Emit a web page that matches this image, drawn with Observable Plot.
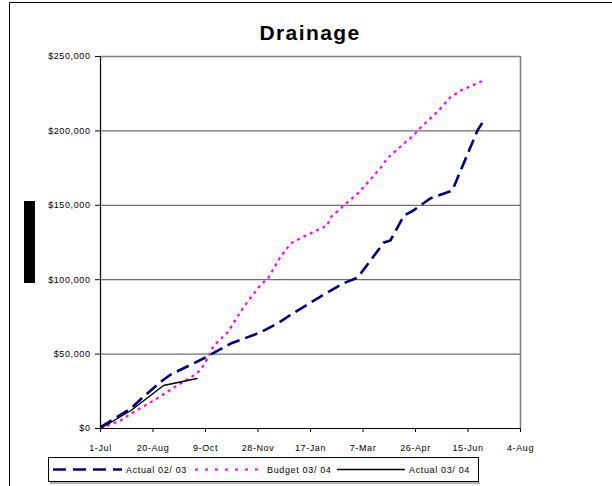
<!DOCTYPE html>
<html>
<head>
<meta charset="utf-8">
<script src="https://cdn.jsdelivr.net/npm/d3@7"></script>
<script src="https://cdn.jsdelivr.net/npm/@observablehq/plot@0.6"></script>
<style>
  body { margin: 0; background: #fff; }
  #wrap { position: relative; width: 612px; height: 486px; overflow: hidden; background: #fff; }
  #wrap svg text { font-family: "Liberation Sans", Arial, sans-serif; }
  #chart svg text { letter-spacing: 0.6px; }
  #deco { position: absolute; left: 0; top: 0; pointer-events: none; }
</style>
</head>
<body>
<div id="wrap"><div id="chart"></div></div>
<script>
// ---- data (x = days since 1-Jul) ----
const xTickDays = [0, 50, 100, 150, 200, 250, 300, 350, 400];
const xTickLabels = ["1-Jul", "20-Aug", "9-Oct", "28-Nov", "17-Jan", "7-Mar", "26-Apr", "15-Jun", "4-Aug"];
const yTicks = [0, 50000, 100000, 150000, 200000, 250000];

const actual0203Days   = [0, 29, 38, 59, 67, 100, 124, 152, 170, 183, 208, 231, 245, 270, 276, 289, 298, 314, 335, 359, 365];
const actual0203Values = [1000, 13400, 19500, 32300, 36300, 47700, 57100, 64500, 71200, 77300, 88000, 97400, 101500, 125000, 126300, 143100, 146500, 154600, 159900, 200300, 207000];

const budget0304Days   = [0, 19, 31, 54, 70, 86, 95, 102, 108, 121, 136, 152, 160, 171, 181, 192, 208, 216, 219, 235, 245, 252, 267, 273, 289, 298, 305, 314, 322, 333, 343, 365];
const budget0304Values = [0, 5400, 10800, 20200, 27600, 34300, 39000, 47000, 55800, 64500, 81300, 96100, 101500, 114900, 124300, 128400, 133700, 136400, 141800, 151900, 157900, 163300, 175400, 181500, 191500, 196900, 202300, 208300, 213700, 222400, 227200, 233900];

const actual0304Days   = [0, 29, 60, 92];
const actual0304Values = [0, 12100, 28900, 33600];

const seriesNames = ["Actual 02/ 03", "Budget 03/ 04", "Actual 03/ 04"];

const toRows = (days, vals) => days.map((d, i) => ({day: d, value: vals[i]}));
const a0203 = toRows(actual0203Days, actual0203Values);
const b0304 = toRows(budget0304Days, budget0304Values);
const a0304 = toRows(actual0304Days, actual0304Values);

const chart = Plot.plot({
  width: 612,
  height: 486,
  marginLeft: 100,
  marginRight: 92,
  marginTop: 56,
  marginBottom: 58,
  style: { fontFamily: "Liberation Sans, Arial, sans-serif", fontSize: "9px", background: "transparent", color: "#000" },
  x: { domain: [0, 400], label: null },
  y: { domain: [0, 250000], label: null },
  marks: [
    Plot.gridY(yTicks.slice(1, -1), { stroke: "#6e6e6e", strokeOpacity: 1, strokeWidth: 1.2 }),
    Plot.ruleY([250000], { stroke: "#808080", strokeWidth: 1.6 }),
    Plot.ruleX([400], { stroke: "#808080", strokeWidth: 1.6 }),
    Plot.line(b0304, { x: "day", y: "value", stroke: "#ff00ff", strokeWidth: 2.2, strokeDasharray: "3,4", strokeLinecap: "butt" }),
    Plot.line(a0203, { x: "day", y: "value", stroke: "#000080", strokeWidth: 2.6, strokeDasharray: "13,6", strokeLinecap: "butt" }),
    Plot.line(a0304, { x: "day", y: "value", stroke: "#000", strokeWidth: 1.4 }),
    Plot.ruleX([0], { stroke: "#000", strokeWidth: 1.2 }),
    Plot.ruleY([0], { stroke: "#000", strokeWidth: 1.2 }),
    Plot.axisY(yTicks, { label: null, tickFormat: d3.format("$,"), tickSize: 5, tickPadding: 5, fontSize: 9 }),
    Plot.axisX(xTickDays, { label: null, tickFormat: d => xTickLabels[xTickDays.indexOf(d)], tickSize: 4, tickPadding: 12, fontSize: 9 })
  ]
});
document.getElementById("chart").appendChild(chart);

// ---- decoration: frame, title, legend ----
const deco = d3.select("#wrap").append("svg")
  .attr("id", "deco").attr("width", 612).attr("height", 486);
deco.append("line").attr("x1", 9.5).attr("y1", 2.5).attr("x2", 9.5).attr("y2", 486).attr("stroke", "#000");
deco.append("line").attr("x1", 9.5).attr("y1", 2.5).attr("x2", 612).attr("y2", 2.5).attr("stroke", "#000");
deco.append("rect").attr("x", 24).attr("y", 201).attr("width", 11).attr("height", 82).attr("fill", "#000");

deco.append("text").attr("x", 310).attr("y", 39.5).attr("text-anchor", "middle")
  .attr("font-weight", "bold").attr("font-size", 21).attr("letter-spacing", "1.4px").text("Drainage");

// legend
deco.append("line").attr("x1", 50).attr("y1", 483).attr("x2", 480).attr("y2", 483).attr("stroke", "#999").attr("stroke-width", 1.5);
deco.append("rect").attr("x", 48.5).attr("y", 457.5).attr("width", 430).attr("height", 24)
  .attr("fill", "#fff").attr("stroke", "#000");
const legendItems = [
  { x1: 53, x2: 122, tx: 126, color: "#000080", width: 2.6, dash: "13,7" },
  { x1: 195, x2: 263, tx: 267, color: "#ff00ff", width: 2.2, dash: "3,7" },
  { x1: 337, x2: 405, tx: 409, color: "#000", width: 1.4, dash: null }
];
legendItems.forEach((it, i) => {
  const l = deco.append("line").attr("x1", it.x1).attr("x2", it.x2).attr("y1", 469.5).attr("y2", 469.5)
    .attr("stroke", it.color).attr("stroke-width", it.width);
  if (it.dash) l.attr("stroke-dasharray", it.dash);
  deco.append("text").attr("x", it.tx).attr("y", 473).attr("font-size", 9).attr("letter-spacing", "0.65px")
    .text(seriesNames[i]);
});
</script>
</body>
</html>
